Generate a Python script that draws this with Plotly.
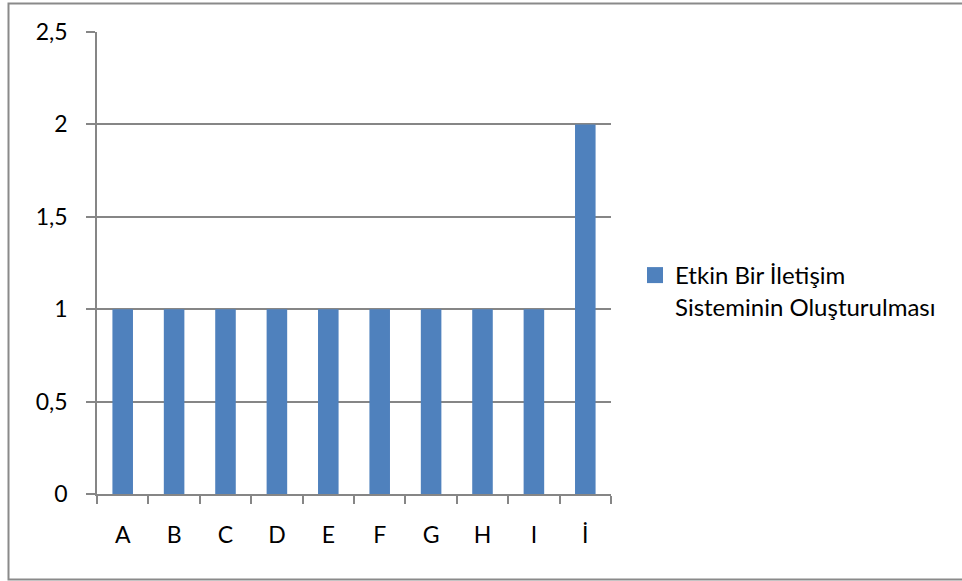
import plotly.graph_objects as go

categories = ["A", "B", "C", "D", "E", "F", "G", "H", "I", "İ"]
values = [1, 1, 1, 1, 1, 1, 1, 1, 1, 2]
series_name = "Etkin Bir İletişim<br>Sisteminin Oluşturulması"
y_ticks = [0, 0.5, 1, 1.5, 2, 2.5]
y_tick_labels = ["0", "0,5", "1", "1,5", "2", "2,5"]

W, H = 962, 581
L, R, T, B = 97, 351, 32, 87
pw, ph = W - L - R, H - T - B

def px(x):
    return (x - L) / pw

def py(y):
    return (H - B - y) / ph

bar_color = "#4F81BD"

fig = go.Figure()
fig.add_trace(go.Bar(
    x=categories, y=values, name=series_name,
    marker=dict(color=bar_color, line=dict(width=0)),
    showlegend=False,
))
# legend entry (square swatch like the original)
fig.add_trace(go.Scatter(
    x=[None], y=[None], mode="markers", name=series_name,
    marker=dict(symbol="square", size=16, color=bar_color),
    showlegend=True,
))

grid_color = "#868686"
fig.update_layout(
    width=W, height=H,
    margin=dict(l=L, r=R, t=T, b=B, pad=0, autoexpand=False),
    paper_bgcolor="white", plot_bgcolor="white",
    font=dict(family="Lato, Carlito, Calibri, sans-serif", color="black"),
    bargap=0.6,
    showlegend=True,
    legend=dict(
        x=px(635), y=py(253), xanchor="left", yanchor="top",
        font=dict(size=24, color="black"),
        itemwidth=30, valign="top", itemsizing="trace",
        bgcolor="rgba(0,0,0,0)",
    ),
    xaxis=dict(
        type="category",
        showgrid=False,
        showline=True, linecolor=grid_color, linewidth=1.5,
        ticks="outside", tickson="boundaries", ticklen=8, tickwidth=1.5,
        tickcolor=grid_color,
        tickfont=dict(size=23),
        ticklabelstandoff=20,
        zeroline=False,
        automargin=False,
    ),
    yaxis=dict(
        range=[0, 2.5],
        tickvals=y_ticks, ticktext=y_tick_labels,
        showgrid=True, gridcolor=grid_color, gridwidth=1.5,
        showline=True, linecolor=grid_color, linewidth=1.5,
        ticks="outside", ticklen=9, tickwidth=1.5, tickcolor=grid_color,
        tickfont=dict(size=23),
        ticklabelstandoff=14,
        zeroline=False,
        automargin=False,
    ),
    shapes=[dict(
        type="rect", xref="paper", yref="paper",
        x0=px(8.5), x1=px(975), y0=py(579.5), y1=py(3.5),
        line=dict(color="#8a8a8a", width=2), fillcolor="rgba(0,0,0,0)",
        layer="below",
    )],
)

fig.write_html("out.html")
